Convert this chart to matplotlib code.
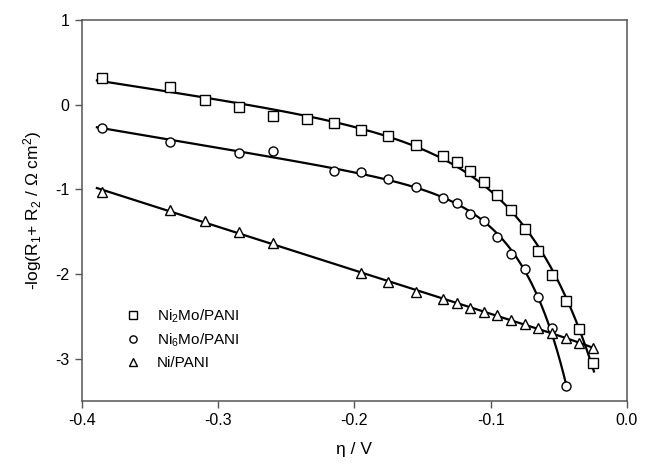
import numpy as np
import matplotlib
matplotlib.use("Agg")
import matplotlib.pyplot as plt

plt.rcParams['font.family'] = ['Liberation Sans', 'DejaVu Sans']
plt.rcParams['mathtext.fontset'] = 'custom'
plt.rcParams['mathtext.rm'] = 'Liberation Sans'
plt.rcParams['mathtext.it'] = 'Liberation Sans:italic'

# Ni2Mo/PANI
eta_sq = [-0.385, -0.335, -0.310, -0.285, -0.260, -0.235, -0.215, -0.195, -0.175,
          -0.155, -0.135, -0.125, -0.115, -0.105, -0.095, -0.085, -0.075, -0.065,
          -0.055, -0.045, -0.035, -0.025]
r_sq = [0.32, 0.21, 0.06, -0.03, -0.14, -0.17, -0.22, -0.30, -0.37,
        -0.48, -0.61, -0.68, -0.78, -0.91, -1.07, -1.25, -1.47, -1.73,
        -2.01, -2.32, -2.65, -3.05]

# Ni6Mo/PANI
eta_ci = [-0.385, -0.335, -0.285, -0.260, -0.215, -0.195, -0.175, -0.155, -0.135,
          -0.125, -0.115, -0.105, -0.095, -0.085, -0.075, -0.065, -0.055, -0.045]
r_ci = [-0.28, -0.44, -0.57, -0.55, -0.79, -0.80, -0.88, -0.97, -1.10,
        -1.16, -1.29, -1.37, -1.56, -1.77, -1.94, -2.27, -2.64, -3.33]

# Ni/PANI
eta_tr = [-0.385, -0.335, -0.310, -0.285, -0.260, -0.195, -0.175, -0.155, -0.135,
          -0.125, -0.115, -0.105, -0.095, -0.085, -0.075, -0.065, -0.055, -0.045,
          -0.035, -0.025]
r_tr = [-1.03, -1.25, -1.38, -1.50, -1.64, -1.99, -2.10, -2.21, -2.30,
        -2.34, -2.40, -2.45, -2.49, -2.54, -2.59, -2.64, -2.70, -2.76,
        -2.82, -2.87]

labels = [r'Ni$_2$Mo/PANI', r'Ni$_6$Mo/PANI', 'Ni/PANI']
markers = ['s', 'o', '^']


def fit_curve(x, y):
    # y = a + b*x + c*exp(k*x), best k by least squares
    best = None
    for k in np.linspace(5, 150, 600):
        A = np.column_stack([np.ones_like(x), x, np.exp(k * x)])
        coef, res, _, _ = np.linalg.lstsq(A, y, rcond=None)
        err = np.sum((A @ coef - y) ** 2)
        if best is None or err < best[0]:
            best = (err, k, coef)
    return best[1], best[2]


fig = plt.figure(figsize=(6.45, 4.65), dpi=100)
ax = fig.add_axes([0.127, 0.138, 0.845, 0.819])

for x, y, m, lab in zip([eta_sq, eta_ci, eta_tr], [r_sq, r_ci, r_tr], markers, labels):
    x = np.array(x)
    y = np.array(y)
    k, c = fit_curve(x, y)
    xf = np.linspace(x.min() - 0.004, x.max() + 0.0008, 300)
    yf = c[0] + c[1] * xf + c[2] * np.exp(k * xf)
    ax.plot(xf, yf, color='black', lw=1.6, zorder=2)
    ax.plot(x, y, m, ls='none', mfc='white', mec='black', mew=1.0,
            ms=6.5 if m != '^' else 7, zorder=3, label=lab)

ax.set_xlim(-0.4, 0.0)
ax.set_ylim(-3.5, 1.0)
ax.set_xticks([-0.4, -0.3, -0.2, -0.1, 0.0])
ax.set_xticklabels(['-0.4', '-0.3', '-0.2', '-0.1', '0.0'])
ax.set_yticks([-3, -2, -1, 0, 1])
ax.set_yticklabels(['-3', '-2', '-1', '0', '1'])

for s in ax.spines.values():
    s.set_color('#555555')
    s.set_linewidth(1.1)
ax.tick_params(direction='out', length=5, width=1.0, color='#555555',
               labelsize=11.5, pad=4)

ax.set_xlabel('η / V', fontsize=12.5, labelpad=10)
ax.set_ylabel(r'-log(R$_1$+ R$_2$ / Ω cm$^2$)', fontsize=12.5, labelpad=8)

ax.legend(loc='lower left', bbox_to_anchor=(0.04, 0.045), frameon=False,
          fontsize=11, handletextpad=0.6, labelspacing=0.45, markerscale=0.8)

fig.savefig('out.png', dpi=100)
